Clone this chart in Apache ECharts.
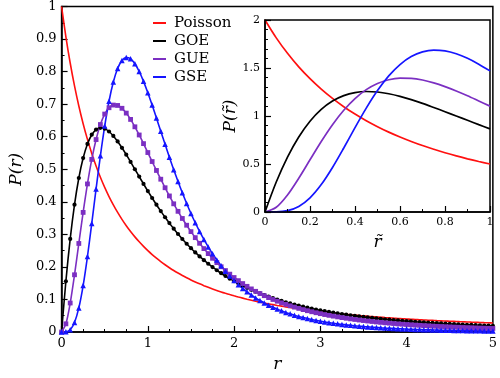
<!DOCTYPE html>
<html><head><meta charset="utf-8">
<script src="https://cdn.jsdelivr.net/npm/echarts@6/dist/echarts.min.js"></script>
<style>html,body{margin:0;padding:0;background:#fff}#c{width:500px;height:378px}</style>
</head><body><div id="c"></div>
<script>
const rMain = [0,0.05,0.1,0.15,0.2,0.25,0.3,0.35,0.4,0.45,0.5,0.55,0.6,0.65,0.7,0.75,0.8,0.85,0.9,0.95,1,
1.05,1.1,1.15,1.2,1.25,1.3,1.35,1.4,1.45,1.5,1.55,1.6,1.65,1.7,1.75,1.8,1.85,1.9,1.95,2,
2.05,2.1,2.15,2.2,2.25,2.3,2.35,2.4,2.45,2.5,2.55,2.6,2.65,2.7,2.75,2.8,2.85,2.9,2.95,3,
3.05,3.1,3.15,3.2,3.25,3.3,3.35,3.4,3.45,3.5,3.55,3.6,3.65,3.7,3.75,3.8,3.85,3.9,3.95,4,
4.05,4.1,4.15,4.2,4.25,4.3,4.35,4.4,4.45,4.5,4.55,4.6,4.65,4.7,4.75,4.8,4.85,4.9,4.95,5];

const poissonMain = [1,0.9070,0.8264,0.7561,0.6944,0.64,0.5917,0.5487,0.5102,0.4756,0.4444,0.4162,0.3906,0.3673,0.3460,0.3265,0.3086,0.2922,0.2770,0.2630,0.25,
0.2380,0.2268,0.2163,0.2066,0.1975,0.1890,0.1811,0.1736,0.1666,0.16,0.1538,0.1479,0.1424,0.1372,0.1322,0.1276,0.1231,0.1189,0.1149,0.1111,
0.1075,0.1041,0.1008,0.0977,0.0947,0.0918,0.0891,0.0865,0.0840,0.0816,0.0794,0.0772,0.0751,0.0730,0.0711,0.0693,0.0675,0.0657,0.0641,0.0625,
0.0610,0.0595,0.0581,0.0567,0.0554,0.0541,0.0529,0.0517,0.0505,0.0494,0.0483,0.0473,0.0463,0.0453,0.0443,0.0434,0.0425,0.0417,0.0408,0.04,
0.0392,0.0385,0.0377,0.0370,0.0363,0.0356,0.0349,0.0343,0.0337,0.0331,0.0325,0.0319,0.0313,0.0308,0.0302,0.0297,0.0292,0.0287,0.0283,0.0278];

const goeMain = [0,0.1559,0.2860,0.3911,0.4731,0.5344,0.5778,0.6061,0.6218,0.6273,0.6248,0.6160,0.6024,0.5854,0.5659,0.5447,0.5226,0.5000,0.4774,0.4550,0.4330,
0.4117,0.3911,0.3714,0.3525,0.3345,0.3173,0.3011,0.2857,0.2711,0.2574,0.2444,0.2321,0.2206,0.2097,0.1994,0.1897,0.1806,0.1720,0.1639,0.1562,
0.1490,0.1422,0.1357,0.1296,0.1239,0.1184,0.1133,0.1085,0.1038,0.0995,0.0954,0.0914,0.0877,0.0842,0.0809,0.0777,0.0747,0.0718,0.0691,0.0665,
0.0640,0.0616,0.0594,0.0573,0.0552,0.0533,0.0514,0.0496,0.0479,0.0463,0.0447,0.0433,0.0418,0.0405,0.0392,0.0379,0.0367,0.0356,0.0345,0.0334,
0.0324,0.0314,0.0305,0.0296,0.0287,0.0279,0.0271,0.0263,0.0255,0.0248,0.0241,0.0235,0.0228,0.0222,0.0216,0.0210,0.0205,0.0199,0.0194,0.0189];

const gueMain = [0,0.0251,0.0890,0.1758,0.2720,0.3674,0.4549,0.5302,0.5912,0.6374,0.6696,0.6890,0.6972,0.6960,0.6873,0.6725,0.6531,0.6304,0.6053,0.5787,0.5513,
0.5237,0.4963,0.4694,0.4432,0.4180,0.3938,0.3707,0.3488,0.3280,0.3084,0.2899,0.2725,0.2562,0.2409,0.2265,0.2131,0.2005,0.1887,0.1777,0.1674,
0.1578,0.1488,0.1403,0.1324,0.1250,0.1181,0.1116,0.1056,0.0999,0.0946,0.0896,0.0849,0.0805,0.0764,0.0725,0.0689,0.0654,0.0622,0.0592,0.0563,
0.0536,0.0511,0.0487,0.0464,0.0443,0.0422,0.0403,0.0385,0.0368,0.0352,0.0337,0.0322,0.0308,0.0295,0.0283,0.0271,0.0260,0.0249,0.0239,0.0230,
0.0221,0.0212,0.0204,0.0196,0.0188,0.0181,0.0174,0.0168,0.0162,0.0156,0.0150,0.0145,0.0139,0.0134,0.0130,0.0125,0.0121,0.0117,0.0113,0.0109];

const gseMain = [0,0.0005,0.0071,0.0292,0.0740,0.1428,0.2319,0.3337,0.4395,0.5412,0.6325,0.7089,0.7681,0.8094,0.8340,0.8431,0.8391,0.8241,0.8003,0.7701,0.7351,
0.6971,0.6573,0.6168,0.5765,0.5371,0.4988,0.4624,0.4276,0.3949,0.3642,0.3356,0.3090,0.2843,0.2615,0.2404,0.2211,0.2033,0.1869,0.1719,0.1581,
0.1455,0.1340,0.1234,0.1137,0.1048,0.0966,0.0892,0.0823,0.0761,0.0703,0.0651,0.0602,0.0558,0.0517,0.0479,0.0445,0.0413,0.0384,0.0357,0.0332,
0.0309,0.0288,0.0269,0.0250,0.0234,0.0218,0.0204,0.0191,0.0179,0.0167,0.0157,0.0147,0.0138,0.0129,0.0121,0.0114,0.0107,0.0101,0.0095,0.0089,
0.0084,0.0079,0.0075,0.0071,0.0067,0.0063,0.0059,0.0056,0.0053,0.0050,0.0048,0.0045,0.0043,0.0040,0.0038,0.0036,0.0035,0.0033,0.0031,0.0030];

const rInset = [0,0.05,0.1,0.15,0.2,0.25,0.3,0.35,0.4,0.45,0.5,0.55,0.6,0.65,0.7,0.75,0.8,0.85,0.9,0.95,1];
const poissonInset = [2,1.814,1.653,1.512,1.389,1.28,1.183,1.097,1.020,0.951,0.889,0.832,0.781,0.735,0.692,0.653,0.617,0.584,0.554,0.526,0.5];
const goeInset = [0,0.312,0.572,0.782,0.946,1.069,1.156,1.212,1.244,1.255,1.250,1.232,1.205,1.171,1.132,1.089,1.045,1.000,0.955,0.910,0.866];
const gueInset = [0,0.050,0.178,0.352,0.544,0.735,0.910,1.060,1.182,1.275,1.339,1.378,1.394,1.392,1.375,1.345,1.306,1.261,1.211,1.157,1.103];
const gseInset = [0,0.001,0.014,0.058,0.148,0.286,0.464,0.667,0.879,1.082,1.265,1.418,1.536,1.619,1.668,1.686,1.678,1.648,1.601,1.540,1.470];

const seriesNames = ['Poisson','GOE','GUE','GSE'];
const mainXTicks = ['0','1','2','3','4','5'];
const mainYTicks = ['0','0.1','0.2','0.3','0.4','0.5','0.6','0.7','0.8','0.9','1'];
const insetXTicks = ['0','0.2','0.4','0.6','0.8','1'];
const insetYTicks = ['0','0.5','1','1.5','2'];

const colors = {Poisson:'#ff1010', GOE:'#000000', GUE:'#7b2fc2', GSE:'#1515ff'};
const FONT = 'DejaVu Serif';
const pair = (xs, ys) => xs.map((x, i) => [x, ys[i]]);
const lbl = (arr, step) => v => { const i = Math.round(v / step); return arr[i] !== undefined ? arr[i] : ''; };

function axisCommon(fs) {
  return {
    axisLine: {show: true, lineStyle: {color: '#000', width: 1.5}},
    axisTick: {show: true, inside: true, length: 6, lineStyle: {color: '#000', width: 1.2}},
    minorTick: {show: true, length: 3, lineStyle: {color: '#000', width: 1}},
    splitLine: {show: false},
    axisLabel: {color: '#000', fontFamily: FONT, fontSize: fs, margin: 5},
    nameTextStyle: {color: '#000', fontFamily: FONT, fontStyle: 'italic', fontSize: 17}
  };
}
function mk(opts, extra) {
  const a = axisCommon(opts.fs);
  const o = Object.assign({}, a, extra);
  o.axisLabel = Object.assign({}, a.axisLabel, extra.axisLabel || {});
  o.minorTick = Object.assign({}, a.minorTick, extra.minorTick || {});
  return o;
}

const chart = echarts.init(document.getElementById('c'), null, {renderer: 'canvas'});
const symbols = {GOE: ['circle', 4.2], GUE: ['rect', 4.8], GSE: ['triangle', 5.5]};
const mainData = {Poisson: poissonMain, GOE: goeMain, GUE: gueMain, GSE: gseMain};
const insetData = {Poisson: poissonInset, GOE: goeInset, GUE: gueInset, GSE: gseInset};

const series = [];
seriesNames.forEach(n => {
  series.push({
    name: n, type: 'line', xAxisIndex: 0, yAxisIndex: 0,
    data: pair(rMain, mainData[n]), smooth: 0.3,
    showSymbol: n !== 'Poisson', symbol: n === 'Poisson' ? 'none' : symbols[n][0],
    symbolSize: n === 'Poisson' ? 0 : symbols[n][1],
    lineStyle: {color: colors[n], width: 1.6}, itemStyle: {color: colors[n]},
    animation: false, z: 3
  });
});
seriesNames.forEach(n => {
  series.push({
    name: n + '_inset', type: 'line', xAxisIndex: 1, yAxisIndex: 1,
    data: pair(rInset, insetData[n]), smooth: 0.3, symbol: 'none',
    lineStyle: {color: colors[n], width: 1.7}, animation: false, z: 5
  });
});

chart.setOption({
  animation: false,
  backgroundColor: '#fff',
  grid: [
    {left: 59, right: 4, top: 5, bottom: 39, show: true, borderColor: '#000', borderWidth: 1.5},
    {left: 265, top: 20, width: 225, height: 192, show: true, borderColor: '#000', borderWidth: 1.5, backgroundColor: '#fff', z: 4}
  ],
  legend: {
    data: seriesNames.map(n => ({name: n, icon: 'rect'})),
    orient: 'vertical', left: 148, top: 10, itemWidth: 13, itemHeight: 2, itemGap: 2,
    textStyle: {fontFamily: FONT, fontSize: 15, color: '#000', lineHeight: 16, padding: [0, 0, 0, 3]},
    selectedMode: false
  },
  xAxis: [
    mk({fs: 13}, {type: 'value', gridIndex: 0, min: 0, max: 5, interval: 1, name: 'r', nameLocation: 'middle', nameGap: 24,
      minorTick: {splitNumber: 4}, axisLabel: {formatter: lbl(mainXTicks, 1)}}),
    mk({fs: 11}, {type: 'value', gridIndex: 1, min: 0, max: 1, interval: 0.2, name: 'r\u0303', nameLocation: 'middle', nameGap: 22,
      minorTick: {splitNumber: 2}, axisLabel: {formatter: lbl(insetXTicks, 0.2)}, z: 6})
  ],
  yAxis: [
    mk({fs: 13}, {type: 'value', gridIndex: 0, min: 0, max: 1, interval: 0.1, name: 'P(r)', nameLocation: 'middle', nameGap: 34,
      minorTick: {splitNumber: 2}, axisLabel: {formatter: lbl(mainYTicks, 0.1)}}),
    mk({fs: 11}, {type: 'value', gridIndex: 1, min: 0, max: 2, interval: 0.5, name: 'P(r\u0303)', nameLocation: 'middle', nameGap: 19,
      minorTick: {splitNumber: 5}, axisLabel: {formatter: lbl(insetYTicks, 0.5)}, z: 6})
  ],
  series: series
});
</script></body></html>
